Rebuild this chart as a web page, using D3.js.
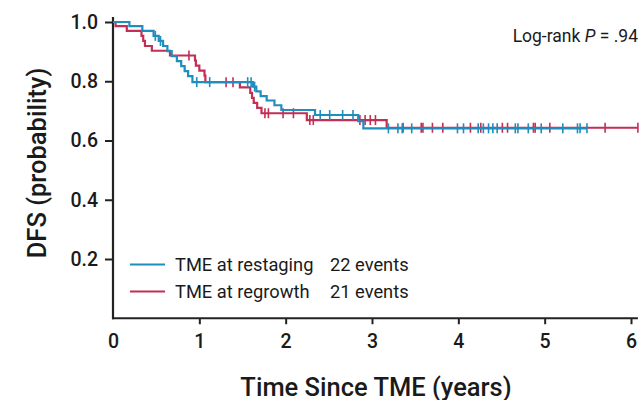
<!DOCTYPE html>
<html>
<head>
<meta charset="utf-8">
<script src="https://cdn.jsdelivr.net/npm/d3@7"></script>
<style>
  html, body { margin: 0; padding: 0; background: #fff; }
  svg { display: block; }
  text { font-family: Roboto, "Liberation Sans", Arial, sans-serif; fill: #1a1a1a; }
</style>
</head>
<body>
<svg id="chart" width="642" height="400"></svg>
<script>
// ---- Data ----
const seriesNames = ["TME at restaging", "TME at regrowth"];
const seriesEvents = ["22 events", "21 events"];
const seriesColors = ["#1f8dbd", "#c12f55"];

// Blue: TME at restaging — step change times and survival after each step
const blueTimes = [0, 0.19, 0.34, 0.47, 0.53, 0.58, 0.63, 0.68, 0.74, 0.79, 0.83, 0.87, 0.92,
  1.62, 1.66, 1.71, 1.78, 1.87, 1.95, 2.34, 2.84, 2.90, 5.49];
const blueSurv = [1.0, 0.986, 0.970, 0.953, 0.936, 0.919, 0.902, 0.885, 0.868, 0.851, 0.834, 0.817, 0.797,
  0.782, 0.766, 0.750, 0.735, 0.719, 0.703, 0.686, 0.665, 0.641, 0.641];
const blueCensor = [0.49, 0.55, 0.97, 1.12, 1.56, 1.60, 1.64, 2.40, 2.51, 2.66, 2.78,
  3.19, 3.30, 3.35, 3.46, 3.99, 4.06, 4.23, 4.29, 4.35, 4.40, 4.45, 4.66, 4.69, 4.81, 4.96,
  5.21, 5.38, 5.41, 5.49];

// Red: TME at regrowth
const redTimes = [0, 0.03, 0.16, 0.33, 0.35, 0.37, 0.45, 0.66, 0.95, 0.96, 1.00, 1.06, 1.07,
  1.47, 1.59, 1.61, 1.63, 1.67, 1.72, 2.245, 3.17, 6.08];
const redSurv = [1.0, 0.986, 0.970, 0.953, 0.936, 0.919, 0.903, 0.887, 0.870, 0.853, 0.836, 0.819, 0.797,
  0.779, 0.761, 0.744, 0.727, 0.710, 0.692, 0.669, 0.643, 0.643];
const redCensor = [0.88, 1.31, 1.39, 1.76, 1.80, 1.97, 2.09, 2.28, 2.32, 2.86, 2.92, 2.98, 3.04,
  3.36, 3.57, 3.59, 3.70, 3.82, 4.14, 4.26, 4.51, 4.57, 4.87, 4.89, 5.06, 5.70, 6.08];

const xTicks = [0, 1, 2, 3, 4, 5, 6];
const yTicks = [0.2, 0.4, 0.6, 0.8, 1.0];
const xLabel = "Time Since TME (years)";
const yLabel = "DFS (probability)";
const pLabel = ["Log-rank ", "P", " = .94"];

// ---- Layout ----
const svg = d3.select("#chart");
const x = d3.scaleLinear().domain([0, 6]).range([113, 631]);
const y = d3.scaleLinear().domain([0, 1]).range([318.25, 22]);
const xMax = 6.08, yMax = 1.017;

// Axes
const yAxis = d3.axisLeft(y).tickValues(yTicks).tickFormat(d3.format(".1f")).tickSize(8).tickPadding(7).tickSizeOuter(0);
const gy = svg.append("g").attr("transform", `translate(${x(0)},0)`).call(yAxis);
gy.select(".domain").remove();
gy.selectAll(".tick line").attr("stroke", "#222").attr("stroke-width", 2);
gy.selectAll(".tick text").style("font-size", "19.5px").style("font-weight", 500).attr("fill", "#1a1a1a");

const xAxis = d3.axisBottom(x).tickValues(xTicks).tickFormat(d3.format("d")).tickSize(6).tickPadding(10).tickSizeOuter(0);
const gx = svg.append("g").attr("transform", `translate(0,${y(0)})`).call(xAxis);
gx.select(".domain").remove();
gx.selectAll(".tick line").attr("stroke", "#222").attr("stroke-width", 2).attr("display", d => d === 0 ? "none" : null);
gx.selectAll(".tick text").style("font-size", "19.5px").style("font-weight", 500).attr("fill", "#1a1a1a");

svg.append("line").attr("x1", x(0)).attr("x2", x(0)).attr("y1", y(0) + 1).attr("y2", y(yMax))
  .attr("stroke", "#222").attr("stroke-width", 2.2);
svg.append("line").attr("x1", x(0) - 1).attr("x2", x(xMax)).attr("y1", y(0)).attr("y2", y(0))
  .attr("stroke", "#222").attr("stroke-width", 2.2);

// Axis titles
svg.append("text").attr("transform", `translate(46,163) rotate(-90)`)
  .attr("text-anchor", "middle").style("font-size", "25.5px").style("font-weight", 500).text(yLabel);
svg.append("text").attr("x", 376).attr("y", 396).attr("text-anchor", "middle")
  .style("font-size", "25.5px").style("font-weight", 500).text(xLabel);

// Curves
const line = d3.line().x(d => x(d[0])).y(d => y(d[1])).curve(d3.curveStepAfter);
const stepAt = (times, surv, t) => { let s = surv[0]; for (let i = 0; i < times.length; i++) { if (times[i] <= t) s = surv[i]; } return s; };

const curves = [
  { times: redTimes, surv: redSurv, censor: redCensor, color: seriesColors[1] },
  { times: blueTimes, surv: blueSurv, censor: blueCensor, color: seriesColors[0] }
];
curves.forEach(c => {
  const pts = c.times.map((t, i) => [t, c.surv[i]]);
  svg.append("path").datum(pts).attr("d", line).attr("fill", "none")
    .attr("stroke", c.color).attr("stroke-width", 2.2);
  svg.append("g").selectAll("line").data(c.censor).join("line")
    .attr("x1", d => x(d)).attr("x2", d => x(d))
    .attr("y1", d => y(stepAt(c.times, c.surv, d)) - 5)
    .attr("y2", d => y(stepAt(c.times, c.surv, d)) + 5)
    .attr("stroke", c.color).attr("stroke-width", 1.6);
});

// Legend
const leg = svg.append("g");
seriesNames.forEach((name, i) => {
  const yy = 264.5 + i * 27;
  leg.append("line").attr("x1", 130).attr("x2", 165).attr("y1", yy).attr("y2", yy)
    .attr("stroke", seriesColors[i]).attr("stroke-width", 2.2);
  leg.append("text").attr("x", 175).attr("y", yy + 6).style("font-size", "18.3px").text(name);
  leg.append("text").attr("x", 330).attr("y", yy + 6).style("font-size", "18.3px").text(seriesEvents[i]);
});

// Log-rank annotation
const pt = svg.append("text").attr("x", 638).attr("y", 42).attr("text-anchor", "end").style("font-size", "17.5px");
pt.append("tspan").text(pLabel[0]);
pt.append("tspan").style("font-style", "italic").text(pLabel[1]);
pt.append("tspan").text(pLabel[2]);
</script>
</body>
</html>
